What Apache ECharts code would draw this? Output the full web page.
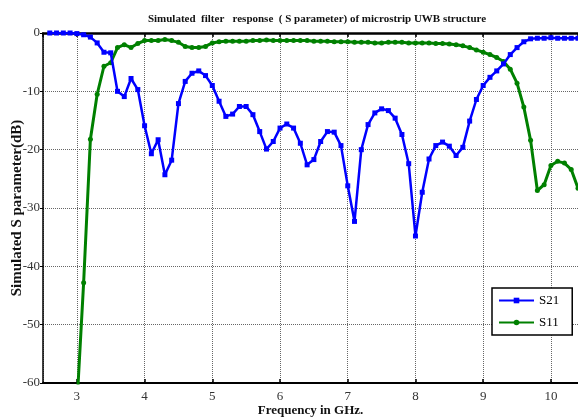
<!DOCTYPE html>
<html>
<head>
<meta charset="utf-8">
<script src="https://cdn.jsdelivr.net/npm/echarts@6/dist/echarts.min.js"></script>
<style>html,body{margin:0;padding:0;background:#fff;}#c{width:578px;height:420px;}</style>
</head>
<body>
<div id="c"></div>
<script>
var s21Freq = [2.6,2.7,2.8,2.9,3.0,3.1,3.2,3.3,3.4,3.5,3.6,3.7,3.8,3.9,4.0,4.1,4.2,4.3,4.4,4.5,4.6,4.7,4.8,4.9,5.0,5.1,5.2,5.3,5.4,5.5,5.6,5.7,5.8,5.9,6.0,6.1,6.2,6.3,6.4,6.5,6.6,6.7,6.8,6.9,7.0,7.1,7.2,7.3,7.4,7.5,7.6,7.7,7.8,7.9,8.0,8.1,8.2,8.3,8.4,8.5,8.6,8.7,8.8,8.9,9.0,9.1,9.2,9.3,9.4,9.5,9.6,9.7,9.8,9.9,10.0,10.1,10.2,10.3,10.4];
var s21 = [0,0,0,0,-0.1,-0.3,-0.7,-1.7,-3.3,-3.4,-10.0,-10.9,-7.8,-9.7,-15.9,-20.7,-18.3,-24.3,-21.8,-12.1,-8.3,-6.9,-6.5,-7.3,-9.0,-11.7,-14.3,-13.9,-12.6,-12.6,-14.0,-16.9,-19.9,-18.6,-16.3,-15.6,-16.3,-18.9,-22.6,-21.7,-18.6,-16.9,-17.0,-19.3,-26.2,-32.3,-20.0,-15.7,-13.7,-13.0,-13.3,-14.6,-17.4,-22.4,-34.8,-27.3,-21.6,-19.3,-18.7,-19.4,-21.0,-19.6,-15.1,-11.4,-9.0,-7.6,-6.5,-5.3,-3.7,-2.5,-1.5,-1.0,-0.9,-0.9,-0.8,-0.9,-0.9,-0.9,-0.9];
var s11Freq = [3.0,3.1,3.2,3.3,3.4,3.5,3.6,3.7,3.8,3.9,4.0,4.1,4.2,4.3,4.4,4.5,4.6,4.7,4.8,4.9,5.0,5.1,5.2,5.3,5.4,5.5,5.6,5.7,5.8,5.9,6.0,6.1,6.2,6.3,6.4,6.5,6.6,6.7,6.8,6.9,7.0,7.1,7.2,7.3,7.4,7.5,7.6,7.7,7.8,7.9,8.0,8.1,8.2,8.3,8.4,8.5,8.6,8.7,8.8,8.9,9.0,9.1,9.2,9.3,9.4,9.5,9.6,9.7,9.8,9.9,10.0,10.1,10.2,10.3,10.4];
var s11 = [-64,-42.8,-18.2,-10.5,-5.7,-5.1,-2.5,-2.0,-2.5,-1.8,-1.3,-1.3,-1.3,-1.1,-1.3,-1.6,-2.3,-2.5,-2.5,-2.3,-1.7,-1.5,-1.4,-1.4,-1.4,-1.4,-1.3,-1.3,-1.2,-1.3,-1.3,-1.3,-1.3,-1.3,-1.3,-1.4,-1.4,-1.4,-1.5,-1.5,-1.5,-1.6,-1.6,-1.6,-1.7,-1.7,-1.6,-1.6,-1.6,-1.7,-1.7,-1.7,-1.7,-1.8,-1.8,-1.9,-2.0,-2.2,-2.5,-2.9,-3.3,-3.7,-4.2,-4.9,-6.2,-8.6,-12.7,-18.4,-27.0,-26.0,-22.7,-22.0,-22.3,-23.4,-26.6];
var seriesNames = ['S21','S11'];
var titleText = 'Simulated  filter   response  ( S parameter) of microstrip UWB structure';

var serif = 'Liberation Serif';
var chart = echarts.init(document.getElementById('c'), null, {renderer:'canvas'});
function pairs(xs, ys){ return xs.map(function(x,i){ return [x, ys[i]]; }); }
var gridLine = {show:true, lineStyle:{color:'#666', width:1, type:[1,1]}};
chart.setOption({
  animation:false,
  backgroundColor:'#fff',
  title:{text:titleText, left:312, textAlign:'center', top:9,
    textStyle:{fontFamily:serif, fontSize:11, fontWeight:'bold', color:'#111'}},
  legend:{data:seriesNames, orient:'vertical', left:492, top:288,
    padding:[6,13,6,6], itemWidth:35, itemHeight:7, itemGap:9,
    borderColor:'#000', borderWidth:1.5, backgroundColor:'#fff',
    textStyle:{fontFamily:serif, fontSize:13, color:'#000'}},
  grid:{left:43, right:0, top:33, bottom:37, containLabel:false, outerBoundsMode:'none'},
  xAxis:[{type:'value', min:2.5, max:10.4, splitNumber:8, position:'bottom',
    name:'Frequency in GHz.', nameLocation:'middle', nameGap:21, nameMoveOverlap:false,
    nameTextStyle:{fontFamily:serif, fontSize:13, fontWeight:'bold', color:'#111'},
    axisLine:{show:true, onZero:false, lineStyle:{color:'#000', width:2}},
    axisTick:{show:true, inside:true, length:4, lineStyle:{color:'#000', width:1.5}},
    axisLabel:{fontFamily:serif, fontSize:13, color:'#333', margin:7, showMinLabel:false, showMaxLabel:false},
    splitLine:gridLine},
   {type:'value', min:2.5, max:10.4, splitNumber:8, position:'top',
    axisLine:{show:true, onZero:false, lineStyle:{color:'#000', width:2.5}},
    axisTick:{show:true, inside:true, length:4, lineStyle:{color:'#000', width:1.5}},
    axisLabel:{show:false}, splitLine:{show:false}}],
  yAxis:{type:'value', min:-60, max:0, interval:10,
    name:'Simulated S parameter(dB)', nameLocation:'middle', nameGap:18, nameMoveOverlap:false,
    nameTextStyle:{fontFamily:serif, fontSize:15, fontWeight:'bold', color:'#111'},
    axisLine:{show:true, lineStyle:{color:'#000', width:1.5}},
    axisTick:{show:true, length:3, lineStyle:{color:'#000'}},
    axisLabel:{fontFamily:serif, fontSize:13, color:'#333', margin:3},
    splitLine:gridLine},
  series:[
    {name:seriesNames[0], type:'line', data:pairs(s21Freq, s21), color:'#0000ff',
     symbol:'rect', symbolSize:5, lineStyle:{width:2.5, color:'#0000ff'}, itemStyle:{color:'#0000ff'}, clip:true, z:3},
    {name:seriesNames[1], type:'line', data:pairs(s11Freq, s11), color:'#008000',
     symbol:'circle', symbolSize:5, lineStyle:{width:3, color:'#008000'}, itemStyle:{color:'#008000'}, clip:true, z:2}
  ]
});
</script>
</body>
</html>
